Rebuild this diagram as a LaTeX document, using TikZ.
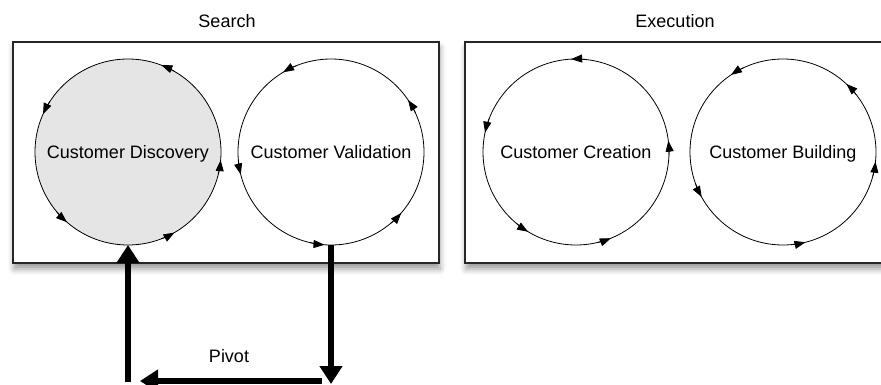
\documentclass[tikz,border=0pt]{standalone}
\usepackage{fontspec}
\setmainfont{Liberation Sans}
\usetikzlibrary{arrows.meta,shadows.blur,positioning}
\tikzset{
	panel/.style={draw=black!85, line width=1.2pt, fill=white, minimum height=221pt,
		blur shadow={shadow xshift=1pt, shadow yshift=-6pt, shadow blur radius=6pt}},
	cyc/.style={circle, draw, line width=0.8pt, minimum size=186pt, inner sep=0pt, outer sep=0pt,
		text height=16pt, text depth=4pt},
	cyctip/.style={-{Triangle[length=11pt,width=8pt]}, line width=0.8pt},
	pivotarrow/.style={-{Triangle[length=18pt,width=22pt]}, line width=6pt},
}
\begin{document}
\begin{tikzpicture}[x=1pt,y=1pt,font=\fontsize{18}{22}\selectfont]
			\useasboundingbox (0,0) rectangle (881,384);
			% the two phases
			\node[panel, minimum width=426pt] (search) at (226,231.5) {};
			\node[panel, minimum width=440pt] (exec) at (685,231.5) {};
			\node (searchlbl) at (227,363) {Search};
			\node (execlbl) at (675,363) {Execution};
			% the four steps
			\node[cyc, fill=gray!20] (disc) at (128,232) {Customer Discovery};
			\node[cyc] (val) at (331,232) {Customer Validation};
			\node[cyc] (crea) at (576,232) {Customer Creation};
			\node[cyc] (build) at (783,232) {Customer Building};
			% arrow heads on the loops
			\draw[cyctip] (disc.60) arc (60:69:93);
			\draw[cyctip] (disc.147) arc (147:156:93);
			\draw[cyctip] (disc.220) arc (220:229:93);
			\draw[cyctip] (disc.291) arc (291:300:93);
			\draw[cyctip] (disc.346) arc (346:355:93);
			\draw[cyctip] (val.112) arc (112:121:93);
			\draw[cyctip] (val.25) arc (25:34:93);
			\draw[cyctip] (val.185) arc (185:194:93);
			\draw[cyctip] (val.310) arc (310:319:93);
			\draw[cyctip] (val.257) arc (257:266:93);
			\draw[cyctip] (crea.84) arc (84:93:93);
			\draw[cyctip] (crea.159) arc (159:168:93);
			\draw[cyctip] (crea.230) arc (230:239:93);
			\draw[cyctip] (crea.283) arc (283:292:93);
			\draw[cyctip] (crea.-2) arc (-2:7:93);
			\draw[cyctip] (build.115) arc (115:124:93);
			\draw[cyctip] (build.38) arc (38:47:93);
			\draw[cyctip] (build.200) arc (200:209:93);
			\draw[cyctip] (build.275) arc (275:284:93);
			\draw[cyctip] (build.345) arc (345:354:93);
			% pivot
			\coordinate (downend) at (331,0);
			\coordinate (pivotR) at (322,3);
			\coordinate (pivotL) at (140,3);
			\coordinate (upstart) at (128,2);
			\draw[pivotarrow] (val.south) -- (downend);
			\draw[pivotarrow] (pivotR) -- (pivotL);
			\draw[pivotarrow] (upstart) -- (disc.south);
			\node (pivotlbl) at (229,28) {Pivot};
		\end{tikzpicture}
\end{document}
